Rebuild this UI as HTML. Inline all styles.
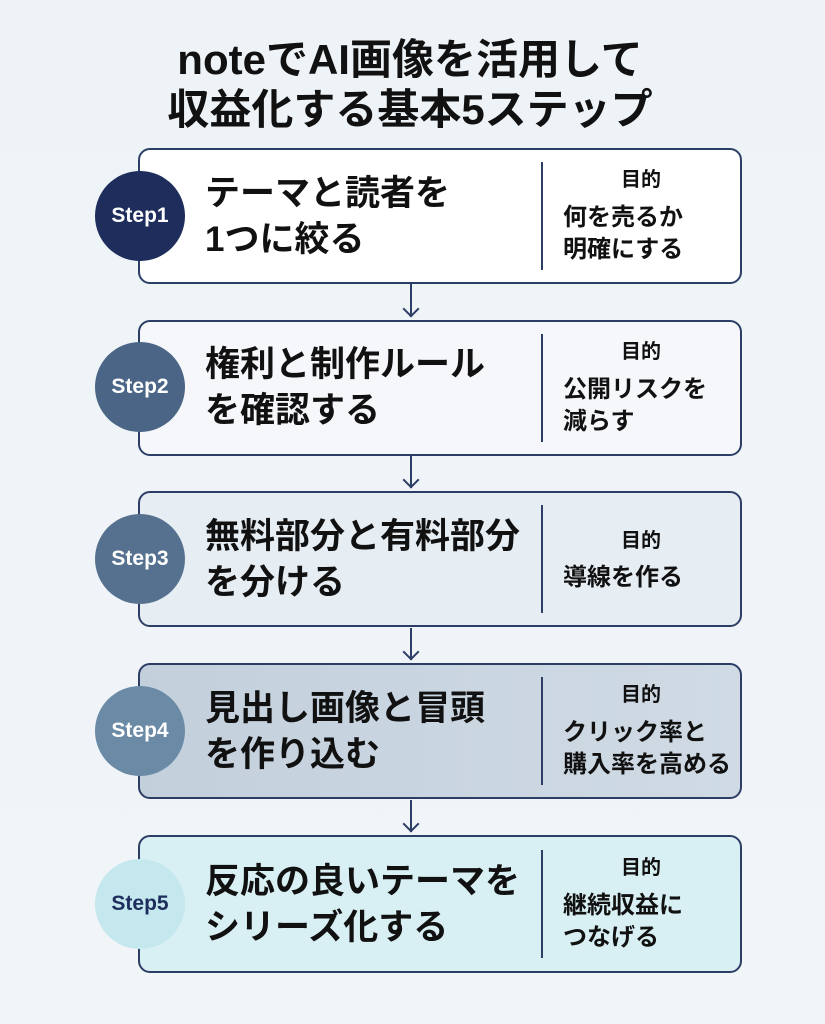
<!DOCTYPE html>
<html><head><meta charset="utf-8"><style>
*{margin:0;padding:0;box-sizing:border-box}
body{width:825px;height:1024px;background:linear-gradient(180deg,#eef3f7,#f1f5f8);font-family:"Liberation Sans","Noto Sans CJK JP",sans-serif;position:relative;overflow:hidden;color:#111}
.t{position:absolute;left:0;width:825px;text-align:center;font-size:42px;font-weight:bold;line-height:50px;padding-right:5px}
.box{position:absolute;left:138px;width:604px;height:136px;border:2px solid #2d3e66;border-radius:12px}
.c{position:absolute;left:95px;width:90px;height:90px;border-radius:50%;color:#fff;font-weight:bold;font-size:21px;display:flex;align-items:center;justify-content:center}
.m{position:absolute;left:205px;font-size:35px;font-weight:bold;line-height:46px}
.d{position:absolute;left:541px;width:2px;height:108px;background:#2d3e66}
.g{position:absolute;left:560px;width:162px;text-align:center;font-size:20px;font-weight:bold}
.r{position:absolute;left:563px;font-size:24px;font-weight:bold;line-height:32px}
.a{position:absolute;left:410px;width:2px;background:#2d3e66}
.h{position:absolute;left:405px;width:12px;height:12px;border-right:2px solid #2d3e66;border-bottom:2px solid #2d3e66;transform:rotate(45deg)}
</style></head><body>
<div class="t" style="top:35px">noteでAI画像を活用して</div>
<div class="t" style="top:85px">収益化する基本5ステップ</div>

<div class="box" style="top:148px;background:#fff"></div>
<div class="box" style="top:320px;background:#f5f7fa"></div>
<div class="box" style="top:491px;background:#e6edf3"></div>
<div class="box" style="top:663px;background:linear-gradient(90deg,#c3d0dc,#cfdae4)"></div>
<div class="box" style="top:835px;background:#d8f0f3;height:138px"></div>

<div class="a" style="top:284px;height:32px"></div><div class="h" style="top:303px"></div>
<div class="a" style="top:456px;height:32px"></div><div class="h" style="top:474px"></div>
<div class="a" style="top:628px;height:32px"></div><div class="h" style="top:646px"></div>
<div class="a" style="top:800px;height:32px"></div><div class="h" style="top:818px"></div>

<div class="c" style="top:171px;background:#1e2d5c">Step1</div>
<div class="c" style="top:342px;background:#4a6585">Step2</div>
<div class="c" style="top:514px;background:#56718f">Step3</div>
<div class="c" style="top:686px;background:#6a8aa6">Step4</div>
<div class="c" style="top:859px;background:#c4e8ee;color:#1e2d5c">Step5</div>

<div class="m" style="top:171px">テーマと読者を<br>1つに絞る</div>
<div class="m" style="top:342px">権利と制作ルール<br>を確認する</div>
<div class="m" style="top:514px">無料部分と有料部分<br>を分ける</div>
<div class="m" style="top:686px">見出し画像と冒頭<br>を作り込む</div>
<div class="m" style="top:859px">反応の良いテーマを<br>シリーズ化する</div>

<div class="d" style="top:162px"></div>
<div class="d" style="top:334px"></div>
<div class="d" style="top:505px"></div>
<div class="d" style="top:677px"></div>
<div class="d" style="top:850px"></div>

<div class="g" style="top:163px">目的</div>
<div class="r" style="top:202px">何を売るか<br>明確にする</div>
<div class="g" style="top:335px">目的</div>
<div class="r" style="top:374px">公開リスクを<br>減らす</div>
<div class="g" style="top:524px">目的</div>
<div class="r" style="top:562px">導線を作る</div>
<div class="g" style="top:678px">目的</div>
<div class="r" style="top:717px">クリック率と<br>購入率を高める</div>
<div class="g" style="top:851px">目的</div>
<div class="r" style="top:890px">継続収益に<br>つなげる</div>
</body></html>
